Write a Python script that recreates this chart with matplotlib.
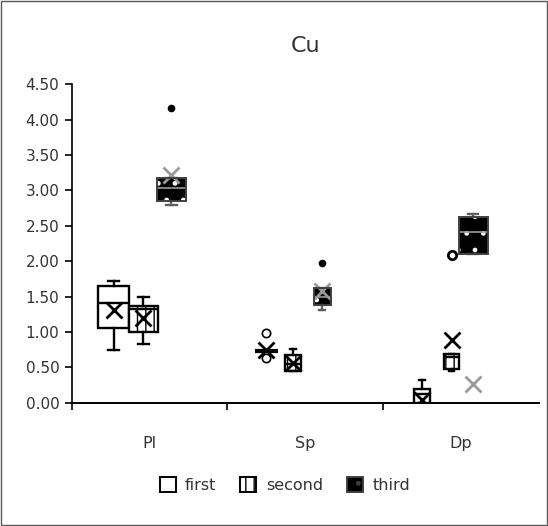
import matplotlib
matplotlib.use('Agg')
import matplotlib.pyplot as plt
from matplotlib.patches import Patch, PathPatch, Rectangle

plt.rcParams['font.family'] = ['DejaVu Sans']
plt.rcParams['hatch.linewidth'] = 1.0

categories = ['Pl', 'Sp', 'Dp']
series = ['first', 'second', 'third']

# box statistics per series, one value per category
first_q1 = [1.06, 0.73, 0.00]
first_med = [1.41, 0.73, 0.12]
first_q3 = [1.65, 0.73, 0.20]
first_lo = [0.75, 0.73, 0.00]
first_hi = [1.72, 0.73, 0.32]
first_mean = [1.31, 0.74, 0.04]
first_fliers = [[], [0.98, 0.63], []]

second_q1 = [1.00, 0.45, 0.48]
second_med = [1.33, 0.55, 0.65]
second_q3 = [1.37, 0.68, 0.69]
second_lo = [0.83, 0.45, 0.45]
second_hi = [1.49, 0.76, 0.69]
second_mean = [1.20, 0.56, 0.89]
second_fliers = [[], [], [2.09]]

third_q1 = [2.85, 1.38, 2.10]
third_med = [3.03, 1.50, 2.41]
third_q3 = [3.18, 1.62, 2.62]
third_lo = [2.79, 1.31, 2.10]
third_hi = [3.18, 1.62, 2.67]
third_mean = [3.22, 1.58, 0.27]
third_fliers = [[4.16], [1.97], []]

yticks = [0, 0.5, 1, 1.5, 2, 2.5, 3, 3.5, 4, 4.5]

# layout of the boxes inside each category slot
box_x = {'first': [0.27, 1.25, 2.25],
         'second': [0.46, 1.42, 2.44],
         'third': [0.64, 1.61, 2.58]}
box_w = {'first': [0.20, 0.15, 0.10],
         'second': [0.19, 0.10, 0.10],
         'third': [0.19, 0.11, 0.19]}

stats = {
    'first': (first_q1, first_med, first_q3, first_lo, first_hi, first_mean, first_fliers),
    'second': (second_q1, second_med, second_q3, second_lo, second_hi, second_mean, second_fliers),
    'third': (third_q1, third_med, third_q3, third_lo, third_hi, third_mean, third_fliers),
}

txt = '#333333'

fig = plt.figure(figsize=(5.48, 5.26), dpi=100)
ax = fig.add_axes([0.131, 0.234, 0.852, 0.606])

for name in series:
    q1, med, q3, lo, hi, mean, fl = stats[name]
    bxs = []
    for i in range(len(categories)):
        bxs.append(dict(q1=q1[i], med=med[i], q3=q3[i], whislo=lo[i],
                        whishi=hi[i], mean=mean[i], fliers=fl[i]))
    if name == 'first':
        boxp = dict(facecolor='white', edgecolor='black', linewidth=1.7)
        medp = dict(color='black', linewidth=1.7)
        meanp = dict(marker='x', markeredgecolor='black', markersize=11, markeredgewidth=2)
        flp = dict(marker='o', markerfacecolor='white', markeredgecolor='black',
                   markersize=6, markeredgewidth=1.2)
        lc = 'black'
    elif name == 'second':
        boxp = dict(facecolor='white', edgecolor='black', linewidth=1.7, hatch='||')
        medp = dict(color='black', linewidth=1.7)
        meanp = dict(marker='x', markeredgecolor='black', markersize=11, markeredgewidth=2)
        flp = dict(marker='o', markerfacecolor='white', markeredgecolor='black',
                   markersize=6, markeredgewidth=2)
        lc = 'black'
    else:
        boxp = dict(facecolor='black', edgecolor='white', linewidth=0, hatch='.')
        medp = dict(color='#9a9a9a', linewidth=1.2)
        meanp = dict(marker='x', markeredgecolor='#9a9a9a', markersize=11, markeredgewidth=2)
        flp = dict(marker='o', markerfacecolor='black', markeredgecolor='black',
                   markersize=4.5)
        lc = '#606060'
    res = ax.bxp(bxs, positions=box_x[name], widths=box_w[name],
                 capwidths=[w * 0.35 for w in box_w[name]],
                 patch_artist=True, showmeans=True, shownotches=False,
                 boxprops=boxp, medianprops=medp, meanprops=meanp,
                 flierprops=flp,
                 whiskerprops=dict(color=lc, linewidth=1.7),
                 capprops=dict(color=lc, linewidth=1.7))
    if name == 'first':
        # the collapsed box shows as a heavy bar
        res['medians'][1].set_linewidth(3)
    if name == 'third':
        for b in res['boxes']:
            ax.add_patch(PathPatch(b.get_path(), facecolor='none',
                                   edgecolor='#404040', linewidth=1.4, zorder=2.5))

ax.set_xlim(0, 3)
ax.set_ylim(0, 4.5)
ax.set_yticks(yticks)
ax.set_yticklabels(['%.2f' % v for v in yticks], fontsize=11, color=txt)
ax.set_xticks([0, 1, 2])
ax.set_xticklabels([])
ax.set_xticks([0.5, 1.5, 2.5], minor=True)
ax.set_xticklabels(categories, minor=True, fontsize=11.5, color=txt)
ax.tick_params(axis='x', which='minor', length=0, pad=24)
ax.tick_params(axis='x', which='major', length=5, width=1.2)
ax.tick_params(axis='y', length=5, width=1.2, pad=4)
for s in ['top', 'right']:
    ax.spines[s].set_visible(False)
ax.spines['left'].set_linewidth(1.2)
ax.spines['bottom'].set_linewidth(1.4)

fig.text(0.557, 0.913, 'Cu', fontsize=16, ha='center', va='center', color=txt)

handles = [Patch(facecolor='white', edgecolor='black', linewidth=1.4),
           Patch(facecolor='white', edgecolor='black', linewidth=1.4, hatch='||'),
           Patch(facecolor='black', edgecolor='#404040', linewidth=1.4, hatch='.')]
fig.legend(handles, series, loc='center', bbox_to_anchor=(0.52, 0.078), ncol=3,
           frameon=False, fontsize=11.5, handlelength=1.0, handleheight=1.1,
           handletextpad=0.6, columnspacing=1.5, labelcolor=txt)

fig.patches.append(Rectangle((0.001, 0.001), 0.997, 0.997, transform=fig.transFigure,
                             fill=False, edgecolor='#595959', linewidth=1))

fig.savefig('out.png', dpi=100)
